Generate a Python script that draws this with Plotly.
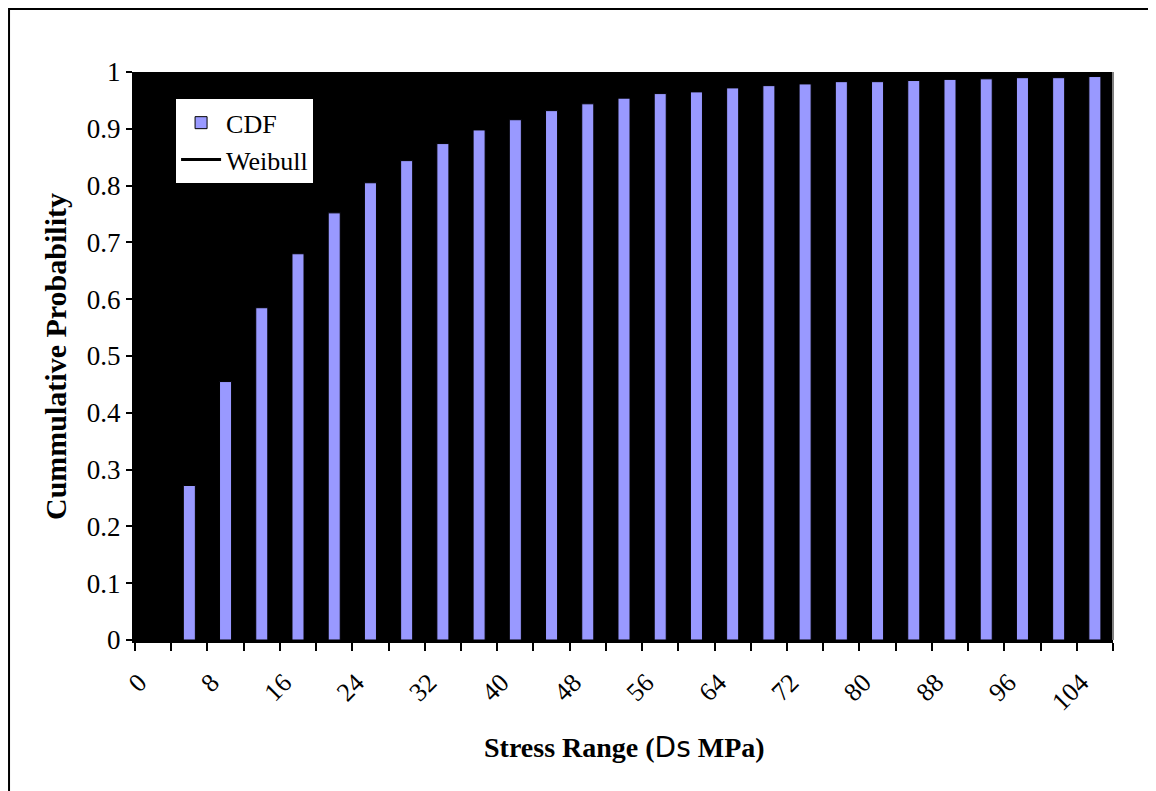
import plotly.graph_objects as go

# Rango de tensiones (MPa) y probabilidad acumulada
stress = [4, 8, 12, 16, 20, 24, 28, 32, 36, 40, 44, 48, 52,
          56, 60, 64, 68, 72, 76, 80, 84, 88, 92, 96, 100, 104]
cdf = [0.272, 0.455, 0.585, 0.680, 0.752, 0.805, 0.844, 0.874, 0.898, 0.916,
       0.932, 0.944, 0.954, 0.962, 0.965, 0.972, 0.976, 0.979, 0.983, 0.983,
       0.985, 0.987, 0.988, 0.990, 0.990, 0.992]
# Curva Weibull (negra sobre fondo negro, por encima de las barras)
weibull = [0.310, 0.500, 0.625, 0.715, 0.780, 0.828, 0.862, 0.890, 0.910, 0.926,
           0.939, 0.950, 0.959, 0.966, 0.971, 0.976, 0.980, 0.983, 0.986, 0.988,
           0.989, 0.991, 0.992, 0.993, 0.994, 0.995]

x_ticks = [0, 8, 16, 24, 32, 40, 48, 56, 64, 72, 80, 88, 96, 104]
y_ticks = [0, 0.1, 0.2, 0.3, 0.4, 0.5, 0.6, 0.7, 0.8, 0.9, 1]
y_labels = ["0", "0.1", "0.2", "0.3", "0.4", "0.5", "0.6", "0.7", "0.8", "0.9", "1"]

serif = "Liberation Serif, Times New Roman, serif"

fig = go.Figure()

fig.add_trace(go.Bar(x=stress, y=cdf, name="CDF", width=1.33,
                     marker=dict(color="#9999FF", line=dict(color="black", width=1))))
fig.add_trace(go.Scatter(x=stress, y=weibull, mode="lines", name="Weibull",
                         line=dict(color="black", width=3)))

fig.update_xaxes(
    range=[-2, 106],
    tickmode="array", tickvals=x_ticks, ticktext=[str(v) for v in x_ticks],
    tickangle=-45, ticks="",
    ticklabelshift=-14, ticklabelstandoff=14,
    tickfont=dict(family=serif, size=26, color="black"),
    minor=dict(tickmode="linear", tick0=-2, dtick=4, ticks="outside",
               ticklen=8, tickwidth=2, tickcolor="black"),
    showline=True, linecolor="black", linewidth=3,
    showgrid=False, zeroline=False,
)
fig.update_yaxes(
    range=[0, 1],
    tickmode="array", tickvals=y_ticks, ticktext=y_labels,
    ticks="outside", ticklen=6, tickwidth=2, tickcolor="black",
    tickfont=dict(family=serif, size=27, color="black"),
    showline=True, linecolor="black", linewidth=3,
    showgrid=False, zeroline=False,
)

# Títulos de los ejes
fig.add_annotation(text="<b>Stress Range (</b><span style='font-family:DejaVu Sans'>Ds</span><b> MPa)</b>",
                   xref="paper", yref="paper", x=0.5, y=-0.190,
                   xanchor="center", yanchor="middle", showarrow=False,
                   font=dict(family=serif, size=28, color="black"))
fig.add_annotation(text="<b>Cummulative Probability</b>", textangle=-90,
                   xref="paper", yref="paper", x=-0.0818, y=0.5,
                   xanchor="center", yanchor="middle", showarrow=False,
                   font=dict(family=serif, size=30, color="black"))

# Borde derecho gris del área de trazado y marco exterior
fig.add_shape(type="line", xref="paper", yref="paper", x0=1, x1=1, y0=0, y1=1,
              line=dict(color="#808080", width=2))
fig.add_shape(type="rect", xref="paper", yref="paper",
              x0=-0.1288, x1=1.1, y0=-0.4, y1=1.111,
              line=dict(color="black", width=2), layer="below")

fig.update_layout(
    width=1148, height=783,
    margin=dict(l=127, r=43, t=64, b=151),
    plot_bgcolor="black", paper_bgcolor="white",
    bargap=0.667,
    legend=dict(x=0.042, y=0.952, xanchor="left", yanchor="top",
                bgcolor="white", borderwidth=0,
                font=dict(family=serif, size=26, color="black"),
                tracegroupgap=0, itemwidth=40),
)

fig.write_html("out.html")
